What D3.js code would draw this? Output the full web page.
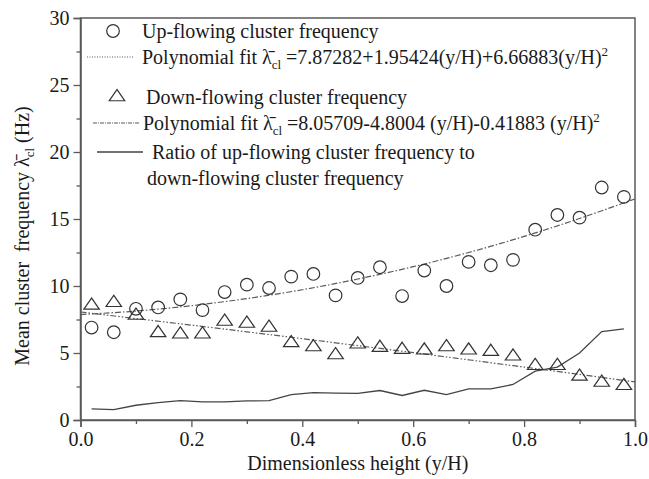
<!DOCTYPE html>
<html>
<head>
<meta charset="utf-8">
<script src="https://cdn.jsdelivr.net/npm/d3@7"></script>
<style>
  body { margin: 0; background: #fff; }
  svg text { font-family: "Liberation Serif", "DejaVu Serif", "Times New Roman", Times, serif; }
</style>
</head>
<body>
<div id="chart"></div>
<script>
// ---- data ----
const heights = [0.02, 0.06, 0.10, 0.14, 0.18, 0.22, 0.26, 0.30, 0.34, 0.38, 0.42, 0.46, 0.50,
                 0.54, 0.58, 0.62, 0.66, 0.70, 0.74, 0.78, 0.82, 0.86, 0.90, 0.94, 0.98];
const upFreq   = [6.9, 6.55, 8.3, 8.4, 9.0, 8.2, 9.55, 10.1, 9.85, 10.7, 10.9, 9.3, 10.6,
                  11.4, 9.25, 11.15, 10.0, 11.8, 11.55, 11.95, 14.2, 15.3, 15.1, 17.35, 16.65];
const downFreq = [8.55, 8.75, 7.8, 6.5, 6.4, 6.4, 7.35, 7.2, 6.9, 5.75, 5.45, 4.85, 5.65,
                  5.4, 5.25, 5.2, 5.45, 5.2, 5.1, 4.75, 4.05, 4.05, 3.25, 2.8, 2.55];
const ratio    = [0.83, 0.78, 1.1, 1.3, 1.45, 1.35, 1.35, 1.42, 1.45, 1.9, 2.05, 2.0, 1.98,
                  2.2, 1.83, 2.22, 1.9, 2.32, 2.32, 2.65, 3.65, 3.95, 5.0, 6.6, 6.8];
// fitted curves, sampled along the drawn lines
const fitX    = [0, 0.1, 0.2, 0.3, 0.4, 0.5, 0.6, 0.7, 0.8, 0.9, 1.0];
const upFit   = [7.87, 8.13, 8.53, 9.06, 9.72, 10.52, 11.44, 12.50, 13.70, 15.04, 16.50];
const downFit = [8.06, 7.57, 7.08, 6.58, 6.07, 5.55, 5.03, 4.49, 3.95, 3.40, 2.84];

const xTicks = [0, 0.2, 0.4, 0.6, 0.8, 1.0];
const yTicks = [0, 5, 10, 15, 20, 25, 30];

const width = 649, height = 479;
const margin = {top: 18, right: 14, bottom: 59, left: 80.5};
const fs = 20;
const serif = '"Liberation Serif", "DejaVu Serif", "Times New Roman", Times, serif';
const ink = "#1a1a1a", gray = "#5a5a5a";

const svg = d3.select("#chart").append("svg")
  .attr("width", width)
  .attr("height", height)
  .attr("font-family", serif);

const x = d3.scaleLinear().domain([0, 1]).range([margin.left, width - margin.right]);
const y = d3.scaleLinear().domain([0, 30]).range([height - margin.bottom, margin.top]);

// frame
svg.append("rect")
  .attr("x", x(0)).attr("y", y(30))
  .attr("width", x(1) - x(0)).attr("height", y(0) - y(30))
  .attr("fill", "none").attr("stroke", gray).attr("stroke-width", 1.5);

// axes (minor ticks first, then majors with labels)
svg.append("g")
  .attr("transform", `translate(0,${y(0)})`)
  .call(d3.axisBottom(x).tickValues(d3.range(0.1, 1, 0.2)).tickSize(4).tickFormat(""))
  .call(g => g.select(".domain").remove());
svg.append("g")
  .attr("transform", `translate(0,${y(0)})`)
  .call(d3.axisBottom(x).tickValues(xTicks).tickSize(7).tickPadding(5).tickFormat(d3.format(".1f")))
  .call(g => g.select(".domain").attr("stroke", gray).attr("stroke-width", 1.5));
svg.append("g")
  .attr("transform", `translate(${x(0)},0)`)
  .call(d3.axisLeft(y).tickValues(d3.range(2.5, 30, 5)).tickSize(4).tickFormat(""))
  .call(g => g.select(".domain").remove());
svg.append("g")
  .attr("transform", `translate(${x(0)},0)`)
  .call(d3.axisLeft(y).tickValues(yTicks).tickSize(7).tickPadding(4))
  .call(g => g.select(".domain").attr("stroke", gray).attr("stroke-width", 1.5));

svg.selectAll("g").attr("font-family", serif);
svg.selectAll(".tick line").attr("stroke", gray).attr("stroke-width", 1.3);
svg.selectAll(".tick text")
  .attr("font-size", fs)
  .attr("fill", ink);

// axis titles
svg.append("text")
  .attr("x", (x(0) + x(1)) / 2).attr("y", 470)
  .attr("text-anchor", "middle")
  .attr("font-size", fs).attr("fill", ink)
  .text("Dimensionless height (y/H)");

const yTitle = svg.append("text")
  .attr("transform", "translate(29,236) rotate(-90)")
  .attr("text-anchor", "middle")
  .attr("font-size", fs).attr("fill", ink);
yTitle.append("tspan").text("Mean cluster\u00a0 frequency \u03bb\u0304");
yTitle.append("tspan").attr("font-size", 13).attr("dy", 5).text("cl");
yTitle.append("tspan").attr("dy", -5).text(" (Hz)");

// lines
const line = (xs, ys) => d3.line()
  .x((d, i) => x(xs[i]))
  .y(d => y(d))
  .curve(d3.curveMonotoneX)(ys);

svg.append("path")
  .attr("d", line(fitX, upFit))
  .attr("fill", "none").attr("stroke", gray).attr("stroke-width", 1.2)
  .attr("stroke-dasharray", "6,2,1.5,2");
svg.append("path")
  .attr("d", line(fitX, downFit))
  .attr("fill", "none").attr("stroke", gray).attr("stroke-width", 1.2)
  .attr("stroke-dasharray", "6,2,1.5,2,1.5,2");
svg.append("path")
  .attr("d", d3.line().x((d, i) => x(heights[i])).y(d => y(d))(ratio))
  .attr("fill", "none").attr("stroke", "#444").attr("stroke-width", 1.3);

// markers
const tri = d3.symbol().type(d3.symbolTriangle).size(72);
svg.append("g").selectAll("circle")
  .data(upFreq)
  .join("circle")
    .attr("cx", (d, i) => x(heights[i]))
    .attr("cy", d => y(d))
    .attr("r", 6.3)
    .attr("fill", "none").attr("stroke", "#333").attr("stroke-width", 1.2);
svg.append("g").selectAll("path")
  .data(downFreq)
  .join("path")
    .attr("d", tri)
    .attr("transform", (d, i) => `translate(${x(heights[i])},${y(d)}) scale(1.2,1)`)
    .attr("fill", "none").attr("stroke", "#333").attr("stroke-width", 1.1);

// legend
const leg = svg.append("g").attr("font-size", fs).attr("fill", ink);

function fitLabel(g, xPos, yPos, body) {
  const t = g.append("text").attr("x", xPos).attr("y", yPos);
  t.append("tspan").text("Polynomial fit \u03bb\u0304");
  t.append("tspan").attr("font-size", 13).attr("dy", 5).text("cl");
  t.append("tspan").attr("dy", -5).text(" =" + body);
  t.append("tspan").attr("font-size", 13).attr("dy", -8).text("2");
}

leg.append("circle").attr("cx", 113).attr("cy", 31).attr("r", 6.3)
  .attr("fill", "none").attr("stroke", "#333").attr("stroke-width", 1.2);
leg.append("text").attr("x", 142).attr("y", 38).text("Up-flowing cluster frequency");

leg.append("line").attr("x1", 87).attr("x2", 133).attr("y1", 57).attr("y2", 57)
  .attr("stroke", gray).attr("stroke-width", 1.1).attr("stroke-dasharray", "1,1.5");
fitLabel(leg, 142, 64, "7.87282+1.95424(y/H)+6.66883(y/H)");

leg.append("path").attr("d", tri)
  .attr("transform", "translate(117,97) scale(1.2,1)")
  .attr("fill", "none").attr("stroke", "#333").attr("stroke-width", 1.1);
leg.append("text").attr("x", 146).attr("y", 104).text("Down-flowing cluster frequency");

leg.append("line").attr("x1", 93).attr("x2", 140).attr("y1", 123).attr("y2", 123)
  .attr("stroke", gray).attr("stroke-width", 1.1).attr("stroke-dasharray", "4,1,1,1");
fitLabel(leg, 143, 130, "8.05709-4.8004 (y/H)-0.41883 (y/H)");

leg.append("line").attr("x1", 97).attr("x2", 143).attr("y1", 152).attr("y2", 152)
  .attr("stroke", "#444").attr("stroke-width", 1.3);
leg.append("text").attr("x", 152).attr("y", 159).text("Ratio of up-flowing cluster frequency to");
leg.append("text").attr("x", 147).attr("y", 185).text("down-flowing cluster frequency");
</script>
</body>
</html>
